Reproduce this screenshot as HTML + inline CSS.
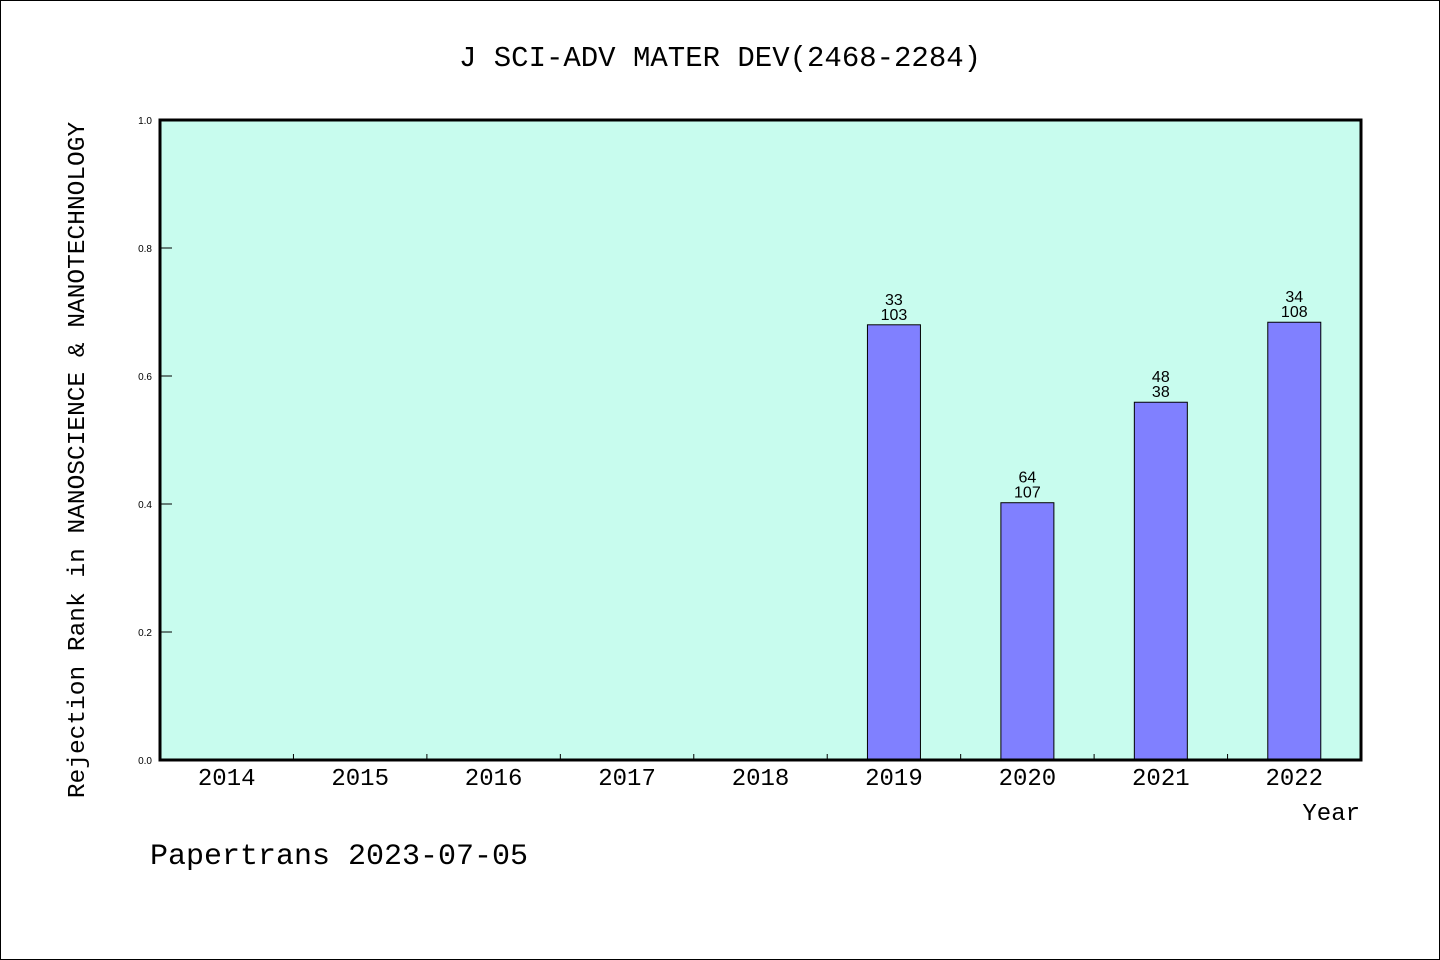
<!DOCTYPE html>
<html><head><meta charset="utf-8"><style>
html,body{margin:0;padding:0;background:#fff}
svg{display:block}
</style></head><body>
<svg id="chart" width="1440" height="960" xmlns="http://www.w3.org/2000/svg">
<rect x="0.5" y="0.5" width="1439" height="959" fill="#fff" stroke="#000"/>
<text x="720" y="66" text-anchor="middle" font-family="Liberation Mono, monospace" font-size="29">J SCI-ADV MATER DEV(2468-2284)</text>
<rect x="160" y="120" width="1201" height="640" fill="#c8fcee"/>
<g id="ticks"></g>
<g id="bars"></g>
<rect x="160" y="120" width="1201" height="640" fill="none" stroke="#000" stroke-width="3"/>
<text transform="translate(84,460) rotate(-90)" text-anchor="middle" font-family="Liberation Mono, monospace" font-size="24.5">Rejection Rank in NANOSCIENCE &amp; NANOTECHNOLOGY</text>
<text x="1360" y="820" text-anchor="end" font-family="Liberation Mono, monospace" font-size="24">Year</text>
<text x="150" y="864" font-family="Liberation Mono, monospace" font-size="30">Papertrans 2023-07-05</text>
</svg>
<script>
const categories = ["2014","2015","2016","2017","2018","2019","2020","2021","2022"];
const values = [null,null,null,null,null,0.68,0.402,0.559,0.684];
const labelTop = ["","","","","","33","64","48","34"];
const labelBottom = ["","","","","","103","107","38","108"];
const yTicks = [0,0.2,0.4,0.6,0.8,1.0];
const yTickLabels = ["0.0","0.2","0.4","0.6","0.8","1.0"];

const NS="http://www.w3.org/2000/svg";
const X0=160,X1=1361,Y0=760,Y1=120;
const slot=(X1-X0)/categories.length;
const xc=i=>X0+slot*(i+0.5);
const y=v=>Y0-(v)*(Y0-Y1);
function mk(tag,attrs,parent){const e=document.createElementNS(NS,tag);for(const k in attrs)e.setAttribute(k,attrs[k]);parent.appendChild(e);return e;}
const tg=document.getElementById('ticks');
const bg=document.getElementById('bars');
yTicks.forEach((t,i)=>{
  const l=mk('line',{x1:X0,x2:X0+12,y1:y(t),y2:y(t),stroke:'#000'},tg);
  
  
  const tx=mk('text',{x:X0-8,y:y(t)+4,'text-anchor':'end','font-family':'Liberation Sans, sans-serif','font-size':'10'},tg);
  tx.textContent=yTickLabels[i];
  
  
});
categories.forEach((c,i)=>{
  if(i>0){
    const l=mk('line',{x1:X0+slot*i,x2:X0+slot*i,y1:Y0,y2:Y0-6,stroke:'#000'},tg);
    
    
  }
  const tx=mk('text',{x:xc(i),y:Y0+25,'text-anchor':'middle','font-family':'Liberation Mono, monospace','font-size':'24'},tg);
  tx.textContent=c;
  
  
  const v=values[i];
  if(v!=null){
    const bw=53;
    const r=mk('rect',{x:xc(i)-bw/2,y:y(v),width:bw,height:Y0-y(v),fill:'#8080ff',stroke:'#000','stroke-width':'1'},bg);
    
    
    const t1=mk('text',{x:xc(i),y:y(v)-20,'text-anchor':'middle','font-family':'Liberation Sans, sans-serif','font-size':'16'},bg);
    t1.textContent=labelTop[i];
    
    
    const t2=mk('text',{x:xc(i),y:y(v)-5,'text-anchor':'middle','font-family':'Liberation Sans, sans-serif','font-size':'16'},bg);
    t2.textContent=labelBottom[i];
    
    
  }
});
</script>
</body></html>
